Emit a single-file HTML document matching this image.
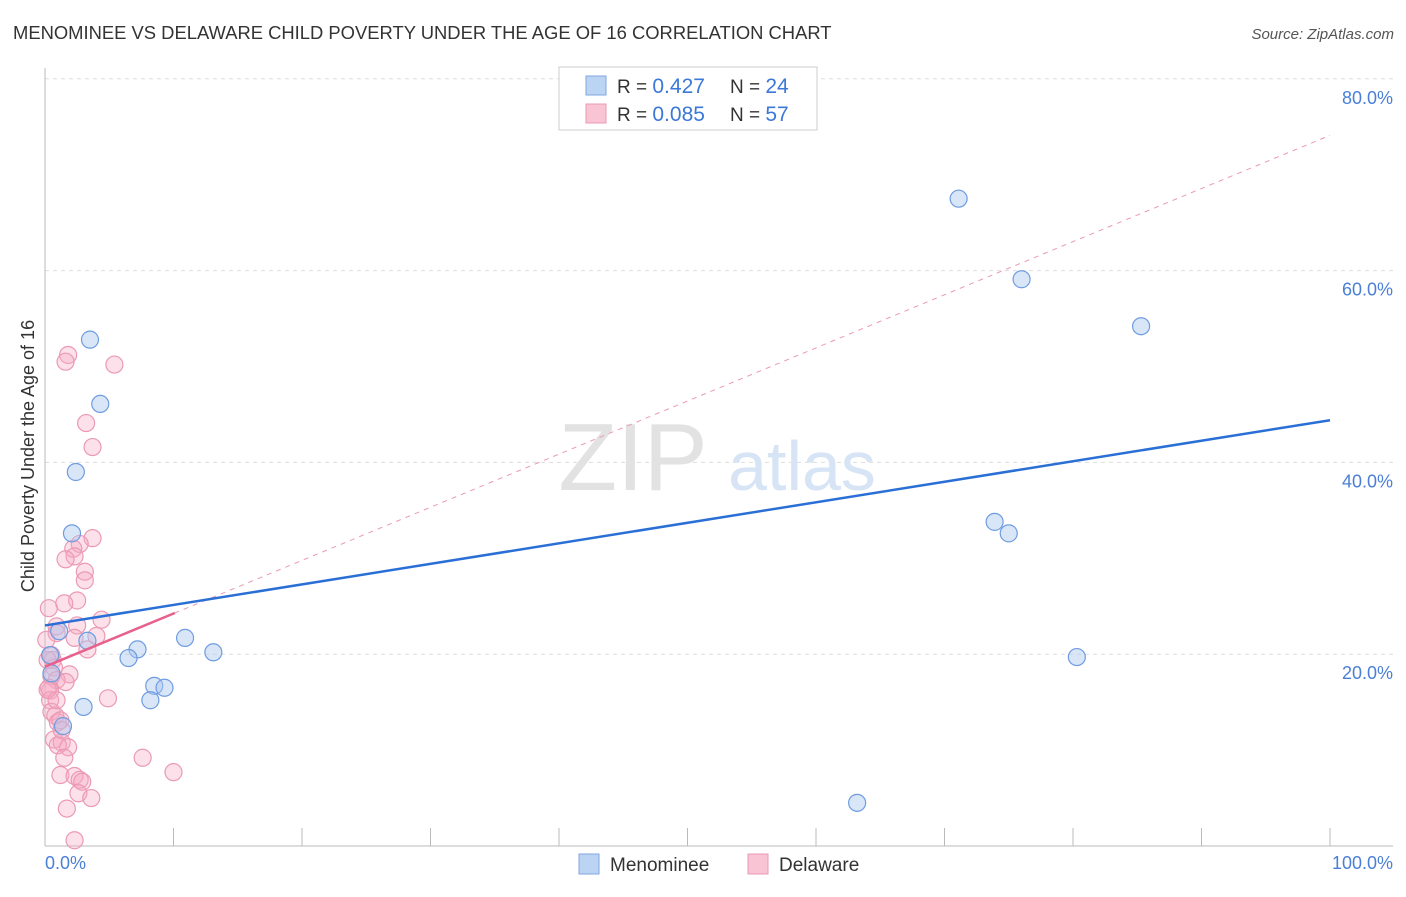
<!DOCTYPE html>
<html><head><meta charset="utf-8"><style>
body{margin:0;background:#fff;font-family:"Liberation Sans",sans-serif}
svg text{font-family:"Liberation Sans",sans-serif}
</style></head><body>
<svg width="1406" height="892" viewBox="0 0 1406 892">
<text x="13" y="39" font-size="18.4" fill="#333">MENOMINEE VS DELAWARE CHILD POVERTY UNDER THE AGE OF 16 CORRELATION CHART</text>
<text x="1394" y="39" font-size="15" fill="#555" text-anchor="end" font-style="italic">Source: ZipAtlas.com</text>
<g id="grid"></g>
<g>
<text x="633" y="490" font-size="96" fill="#e2e2e2" text-anchor="middle" font-family="Liberation Serif,serif">ZIP</text>
<text x="802" y="490" font-size="70" fill="#d6e4f5" text-anchor="middle">atlas</text>
</g>
<line x1="45" y1="68" x2="45" y2="846" stroke="#bbb"/>
<line x1="45" y1="846" x2="1393" y2="846" stroke="#bbb"/>
<g id="xticks"></g>
<text x="45" y="869" font-size="18" fill="#4a7fd6">0.0%</text>
<text x="1393" y="869" font-size="18" fill="#4a7fd6" text-anchor="end">100.0%</text>
<text transform="translate(34,456) rotate(-90)" font-size="18" fill="#333" text-anchor="middle">Child Poverty Under the Age of 16</text>
<g id="pts"></g>
<g id="lines"></g>
<g>
<rect x="559" y="67" width="258" height="63" fill="#fff" stroke="#ccc"/>
<rect x="586" y="76" width="20" height="19" fill="#bcd4f4" stroke="#7fa6e0"/>
<rect x="586" y="104" width="20" height="19" fill="#f9c4d4" stroke="#eb9ab4"/>
<text x="617" y="93" font-size="19" fill="#333">R = <tspan fill="#3b78d8" font-size="21">0.427</tspan><tspan x="730">N = </tspan><tspan fill="#3b78d8" font-size="21">24</tspan></text>
<text x="617" y="121" font-size="19" fill="#333">R = <tspan fill="#3b78d8" font-size="21">0.085</tspan><tspan x="730">N = </tspan><tspan fill="#3b78d8" font-size="21">57</tspan></text>
</g>
<g>
<rect x="579" y="854" width="20" height="20" fill="#bcd4f4" stroke="#7fa6e0"/>
<text x="610" y="871" font-size="19" fill="#333">Menominee</text>
<rect x="748" y="854" width="20" height="20" fill="#f9c4d4" stroke="#eb9ab4"/>
<text x="779" y="871" font-size="19" fill="#333">Delaware</text>
</g>
</svg>
<script>
const yTicks=[20,40,60,80];
const yTickLabels=["20.0%","40.0%","60.0%","80.0%"];
const xTicks=[10,20,30,40,50,60,70,80,90,100];
const blueX=[3.5,4.3,2.4,2.1,1.1,3.3,7.2,6.5,10.9,13.1,8.5,9.3,8.2,3.0,1.4,0.4,0.5,71.1,76.0,85.3,73.9,75.0,80.3,63.2];
const blueY=[52.8,46.1,39.0,32.6,22.4,21.4,20.5,19.6,21.7,20.2,16.7,16.5,15.2,14.5,12.5,19.9,18.0,67.5,59.1,54.2,33.8,32.6,19.7,4.5];
const pinkX=[1.8,1.6,5.4,3.2,3.7,3.7,2.7,2.2,2.3,1.6,3.1,3.1,2.5,1.5,0.3,4.4,2.5,0.9,0.9,4.0,2.3,3.3,0.5,0.6,0.7,1.9,0.5,0.9,1.6,0.3,0.4,0.4,4.9,0.5,0.8,1.0,1.2,0.7,1.3,1.8,1.0,1.5,7.6,1.2,2.3,2.7,2.9,2.6,3.6,10.0,1.7,2.3,0.2,0.1,0.2,0.9,1.3];
const pinkY=[51.2,50.5,50.2,44.1,41.6,32.1,31.5,31.0,30.2,29.9,28.6,27.7,25.6,25.3,24.8,23.6,23.0,22.9,22.2,21.9,21.7,20.5,19.9,19.4,18.6,17.9,17.7,17.3,17.1,16.5,16.2,15.2,15.4,14.0,13.6,12.9,13.1,11.1,10.8,10.3,10.5,9.2,9.2,7.4,7.3,6.9,6.7,5.5,5.0,7.7,3.9,0.6,19.4,21.5,16.3,15.2,12.1];
const blueTrend=[23.0,44.4];
const pinkTrend=[18.7,74.1];
const pinkSolidEnd=10.1;
const NS="http://www.w3.org/2000/svg";
const sx=v=>45+v*12.85, sy=v=>846-v*9.59;
function mk(t,a,p){const e=document.createElementNS(NS,t);for(const k in a)e.setAttribute(k,a[k]);p.appendChild(e);return e;}
const grid=document.getElementById('grid');
yTicks.forEach((t,i)=>{
 const l=mk('line',{x1:45,x2:1393,y1:sy(t),y2:sy(t),stroke:'#ddd','stroke-dasharray':'4,4'},grid);
 
 
 const tx=mk('text',{x:1393,y:sy(t)+25,'font-size':18,fill:'#4a7fd6','text-anchor':'end'},grid);
 tx.textContent=yTickLabels[i];
 
 
});
const xt=document.getElementById('xticks');
xTicks.forEach(t=>{
 const l=mk('line',{x1:sx(t),x2:sx(t),y1:828,y2:846,stroke:'#bbb'},xt);
 
 
});
const pts=document.getElementById('pts');
pinkX.forEach((x,i)=>{
 const c=mk('circle',{cx:sx(x),cy:sy(pinkY[i]),r:8.5,fill:'rgba(247,170,196,0.35)',stroke:'#eb9ab4','stroke-width':1.2},pts);
 
 
});
blueX.forEach((x,i)=>{
 const c=mk('circle',{cx:sx(x),cy:sy(blueY[i]),r:8.5,fill:'rgba(170,200,240,0.45)',stroke:'#6f9ce0','stroke-width':1.2},pts);
 
 
});
const ln=document.getElementById('lines');
const pd=mk('line',{x1:sx(0),y1:sy(pinkTrend[0]),x2:sx(100),y2:sy(pinkTrend[1]),stroke:'#eb9ab4','stroke-dasharray':'5,5','stroke-width':1},ln);


const ps=mk('line',{x1:sx(0),y1:sy(pinkTrend[0]),x2:sx(pinkSolidEnd),y2:sy(pinkTrend[0]+(pinkTrend[1]-pinkTrend[0])*pinkSolidEnd/100),stroke:'#e8608c','stroke-width':2.5},ln);


const bl=mk('line',{x1:sx(0),y1:sy(blueTrend[0]),x2:sx(100),y2:sy(blueTrend[1]),stroke:'#2a6fd6','stroke-width':2.5},ln);


</script>
</body></html>
